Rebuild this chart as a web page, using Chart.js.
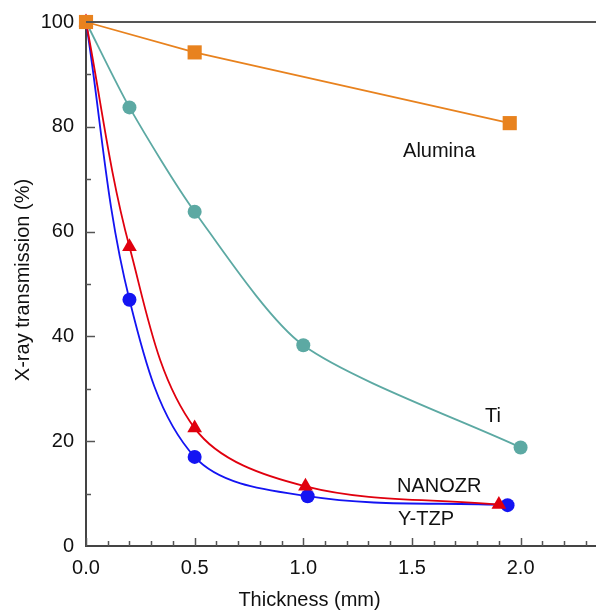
<!DOCTYPE html>
<html>
<head>
<meta charset="utf-8">
<script src="https://cdn.jsdelivr.net/npm/chart.js@4/dist/chart.umd.min.js"></script>
<style>
  html, body { margin: 0; padding: 0; background: #fff; overflow: hidden; }
  #wrap { width: 596px; height: 610px; position: relative; }
  #wrap canvas { display: block; }
</style>
</head>
<body>
<div id="wrap"><canvas id="transChart"></canvas></div>
<script>
// --- Datos (espesor en mm, transmisión en %) ---
const aluminaX = [0, 0.5, 1.95];
const aluminaY = [100, 94.2, 80.7];
const tiX = [0, 0.2, 0.5, 1.0, 2.0];
const tiY = [100, 83.7, 63.8, 38.3, 18.8];
const nanozrX = [0, 0.2, 0.5, 1.01, 1.9];
const nanozrY = [100, 57.1, 22.5, 11.4, 7.9];
const ytzpX = [0, 0.2, 0.5, 1.02, 1.94];
const ytzpY = [100, 47.0, 17.0, 9.5, 7.8];

const xTicks = [0, 0.5, 1.0, 1.5, 2.0];
const yTicks = [0, 20, 40, 60, 80, 100];

// etiquetas de cada curva, ancladas en coordenadas de datos
const seriesLabels = [
  { text: "Alumina", x: 1.459, y: 74.2 },
  { text: "Ti", x: 1.836, y: 23.6 },
  { text: "NANOZR", x: 1.431, y: 10.25 },
  { text: "Y-TZP", x: 1.436, y: 3.95 }
];

const FONT = "'Liberation Sans', Arial, Helvetica, sans-serif";
const toPts = (xs, ys) => xs.map((x, i) => ({ x: x, y: ys[i] }));

// ticks interiores (mayores y menores) + línea superior + textos
const decoPlugin = {
  id: "deco",
  afterDraw(chart) {
    const { ctx, chartArea: a, scales: { x, y } } = chart;
    ctx.save();
    ctx.strokeStyle = "#555";
    ctx.lineWidth = 1.5;
    // eje X: cada 0.1, mayor cada 0.5
    for (let i = 0; i <= 23; i++) {
      const px = Math.round(x.getPixelForValue(i / 10)) + 0.5;
      const len = i % 5 === 0 ? 8 : 5;
      ctx.beginPath();
      ctx.moveTo(px, a.bottom);
      ctx.lineTo(px, a.bottom - len);
      ctx.stroke();
    }
    // eje Y: cada 10, mayor cada 20
    for (let v = 10; v < 100; v += 10) {
      const py = Math.round(y.getPixelForValue(v)) + 0.5;
      const len = v % 20 === 0 ? 9 : 5;
      ctx.beginPath();
      ctx.moveTo(a.left, py);
      ctx.lineTo(a.left + len, py);
      ctx.stroke();
    }
    // línea superior en 100
    ctx.lineWidth = 2;
    ctx.beginPath();
    ctx.moveTo(a.left, a.top);
    ctx.lineTo(a.right, a.top);
    ctx.stroke();

    ctx.fillStyle = "#111";
    ctx.font = "20px " + FONT;
    ctx.textAlign = "left";
    ctx.textBaseline = "alphabetic";
    seriesLabels.forEach(l => {
      ctx.fillText(l.text, x.getPixelForValue(l.x), y.getPixelForValue(l.y));
    });

    // títulos de ejes
    ctx.textAlign = "center";
    ctx.textBaseline = "middle";
    ctx.fillText("Thickness (mm)", 309.5, 600);
    ctx.translate(23, 280);
    ctx.rotate(-Math.PI / 2);
    ctx.fillText("X-ray transmission (%)", 0, 0);
    ctx.restore();
  }
};

const serie = (label, pts, color, style, radius, tension) => ({
  label: label,
  data: pts,
  borderColor: color,
  backgroundColor: color,
  borderWidth: 1.8,
  pointStyle: style,
  pointRadius: radius,
  pointBorderWidth: 0,
  pointBackgroundColor: color,
  tension: tension,
  clip: false
});

new Chart(document.getElementById("transChart"), {
  type: "line",
  data: {
    datasets: [
      serie("Alumina", toPts(aluminaX, aluminaY), "#E8821E", "rect", 10, 0),
      serie("Ti", toPts(tiX, tiY), "#5CA9A3", "circle", 7, 0.25),
      serie("NANOZR", toPts(nanozrX, nanozrY), "#E0000E", "triangle", 8.5, 0.35),
      serie("Y-TZP", toPts(ytzpX, ytzpY), "#1414F2", "circle", 7, 0.35)
    ]
  },
  options: {
    responsive: true,
    maintainAspectRatio: false,
    animation: false,
    events: [],
    layout: { autoPadding: false, padding: { top: 22, right: 0, left: 0, bottom: 0 } },
    plugins: { legend: { display: false }, tooltip: { enabled: false } },
    scales: {
      x: {
        type: "linear",
        min: 0,
        max: 2.347,
        afterBuildTicks: s => { s.ticks = xTicks.map(v => ({ value: v })); },
        afterFit: s => { s.height = 64; s.paddingLeft = 0; s.paddingRight = 0; },
        grid: { display: true, drawOnChartArea: false, drawTicks: false },
        border: { display: true, color: "#444", width: 2 },
        ticks: {
          padding: 10,
          color: "#111",
          font: { family: FONT, size: 20 },
          maxRotation: 0,
          callback: v => Number(v).toFixed(1)
        }
      },
      y: {
        min: 0,
        max: 100,
        afterBuildTicks: s => { s.ticks = yTicks.map(v => ({ value: v })); },
        afterFit: s => { s.width = 86; s.paddingTop = 0; s.paddingBottom = 0; },
        grid: { display: true, drawOnChartArea: false, drawTicks: false },
        border: { display: true, color: "#444", width: 2 },
        ticks: {
          padding: 12,
          color: "#111",
          font: { family: FONT, size: 20 }
        }
      }
    }
  },
  plugins: [decoPlugin]
});
</script>
</body>
</html>
